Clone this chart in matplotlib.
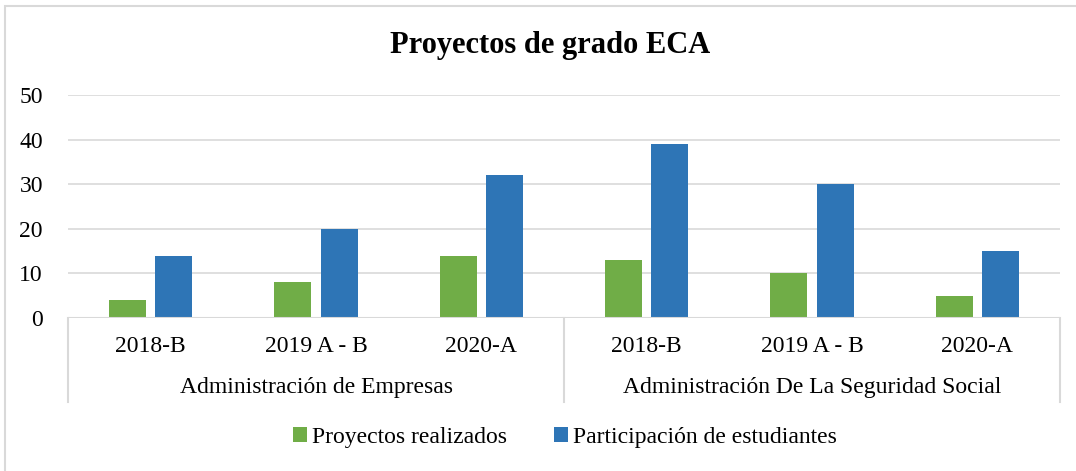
import matplotlib
matplotlib.use('Agg')
import matplotlib.pyplot as plt
import matplotlib.transforms as mtransforms
from matplotlib.patches import Rectangle
import numpy as np

plt.rcParams['font.family'] = ['Liberation Serif', 'DejaVu Serif']

periods = ['2018-B', '2019 A - B', '2020-A', '2018-B', '2019 A - B', '2020-A']
programs = ['Administración de Empresas', 'Administración De La Seguridad Social']
proyectos = [4, 8, 14, 13, 10, 5]
participacion = [14, 20, 32, 39, 30, 15]

green = '#70AD47'
blue = '#2E75B6'
grid_col = '#d9d9d9'

W, H = 1076, 471
fig = plt.figure(figsize=(W / 100, H / 100), dpi=100)

# outer frame (like the exported Excel chart border)
fig.patches.append(Rectangle((5 / W, -0.05), 1.2, 1 - 6 / H + 0.05,
                             transform=fig.transFigure, fill=False,
                             edgecolor=grid_col, lw=1.5))

ax = fig.add_axes([68 / W, 1 - 318 / H, (1060 - 68) / W, (318 - 95) / H])

x = np.arange(len(periods))
bw = 0.225
ax.bar(x - 0.14, proyectos, bw, color=green, label='Proyectos realizados', zorder=3)
ax.bar(x + 0.14, participacion, bw, color=blue, label='Participación de estudiantes', zorder=3)

ax.set_xlim(-0.5, len(periods) - 0.5)
ax.set_ylim(0, 50)
ax.set_yticks(range(0, 51, 10))
ax.yaxis.grid(True, color=grid_col, lw=1.2, zorder=0)
ax.set_axisbelow(True)
for s in ax.spines.values():
    s.set_visible(False)
ax.axhline(0, color=grid_col, lw=1.5, zorder=4)
ax.tick_params(axis='y', length=0, pad=18, labelsize=17)
ax.set_xticks([])

trans = mtransforms.blended_transform_factory(ax.transData, ax.transAxes)
px = 1 / (318 - 95)  # one pixel in axes fraction
for i, lab in enumerate(periods):
    ax.text(i, -29 * px, lab, transform=trans, ha='center', va='center', fontsize=17)
for g, lab in enumerate(programs):
    ax.text(g * 3 + 1, -70 * px, lab, transform=trans, ha='center', va='center', fontsize=17)
for xs in [-0.5, 2.5, 5.5]:
    ax.plot([xs, xs], [0, -84 * px], transform=trans, color=grid_col, lw=1.5, clip_on=False)

fig.text(550 / W, 1 - 45 / H, 'Proyectos de grado ECA', ha='center', va='center',
         fontsize=22, fontweight='bold')

fig.legend(loc='center', bbox_to_anchor=(565 / W, 1 - 437 / H), ncol=2, frameon=False,
           fontsize=17, handlelength=0.6, handleheight=0.6, handletextpad=0.2,
           columnspacing=2.0)

fig.savefig('out.png', dpi=100)
